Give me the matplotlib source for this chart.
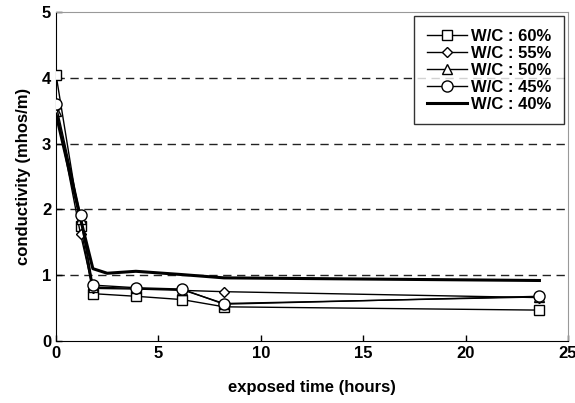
import matplotlib
matplotlib.use('Agg')
import matplotlib.pyplot as plt

plt.rcParams['font.family'] = ['Liberation Sans', 'DejaVu Sans']
plt.rcParams['font.weight'] = 'bold'

t = [0, 1.2, 1.8, 3.9, 6.15, 8.2, 23.6]
wc60 = [4.05, 1.75, 0.72, 0.68, 0.63, 0.52, 0.47]
wc55 = [3.55, 1.62, 0.80, 0.79, 0.77, 0.75, 0.66]
wc50 = [3.50, 1.85, 0.82, 0.80, 0.78, 0.57, 0.67]
wc45 = [3.60, 1.92, 0.85, 0.81, 0.79, 0.56, 0.68]
t40 = [0, 1.2, 1.8, 2.5, 3.9, 6.15, 8.2, 23.6]
wc40 = [3.45, 1.85, 1.10, 1.03, 1.06, 1.01, 0.96, 0.92]

fig = plt.figure(figsize=(5.75, 4.03), dpi=100)
ax = fig.add_axes([0.0974, 0.1538, 0.8906, 0.8162])

ax.plot(t, wc60, marker='s', label='W/C : 60%', color='black', lw=1.0,
        ms=7.5, mfc='white', mec='black', mew=1.0, zorder=3)
ax.plot(t, wc55, marker='D', label='W/C : 55%', color='black', lw=1.0,
        ms=5.5, mfc='white', mec='black', mew=1.0, zorder=3)
ax.plot(t, wc50, marker='^', label='W/C : 50%', color='black', lw=1.0,
        ms=6.5, mfc='white', mec='black', mew=1.0, zorder=3)
ax.plot(t, wc45, marker='o', label='W/C : 45%', color='black', lw=1.0,
        ms=8, mfc='white', mec='black', mew=1.0, zorder=4)
ax.plot(t40, wc40, color='black', lw=2.2, label='W/C : 40%', zorder=3)

ax.set_xlim(0, 25)
ax.set_ylim(0, 5)
ax.set_xticks([0, 5, 10, 15, 20, 25])
ax.set_yticks([0, 1, 2, 3, 4, 5])
for y in [1, 2, 3, 4]:
    ax.axhline(y, color='#222222', lw=1.0, ls=(0, (6, 4)), zorder=0)

ax.tick_params(direction='in', length=4, labelsize=12, width=1)
for lab in ax.get_xticklabels() + ax.get_yticklabels():
    lab.set_fontweight('bold')
ax.set_xlabel('exposed time (hours)', fontsize=12, fontweight='bold', labelpad=14)
ax.set_ylabel('conductivity (mhos/m)', fontsize=12, fontweight='bold', labelpad=8)

for s in ['top', 'right']:
    ax.spines[s].set_color('#999999')
for s in ['left', 'bottom']:
    ax.spines[s].set_color('black')

leg = ax.legend(loc='upper right', fontsize=12, frameon=True, fancybox=False,
                edgecolor='black', handlelength=2.4, handletextpad=0.25,
                labelspacing=0.12, borderpad=0.75, borderaxespad=0.25)
leg.get_frame().set_linewidth(1.0)
for txt in leg.get_texts():
    txt.set_fontweight('bold')

fig.savefig('out.png', dpi=100)
